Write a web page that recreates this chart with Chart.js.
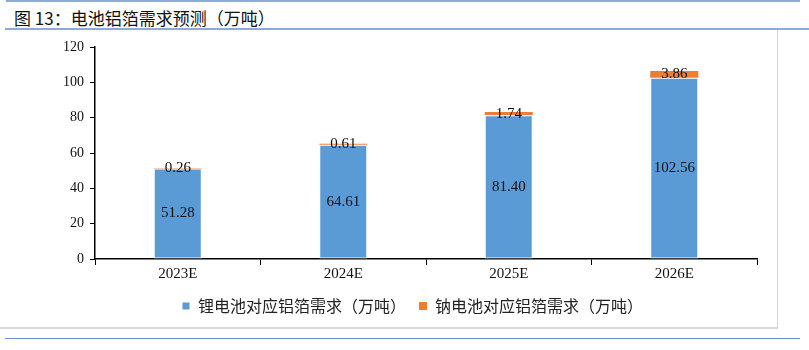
<!DOCTYPE html>
<html>
<head>
<meta charset="utf-8">
<script src="https://cdn.jsdelivr.net/npm/chart.js@4"></script>
<style>
    body { margin: 0; width: 809px; height: 350px; background: #fff; position: relative; overflow: hidden; }
    .line { position: absolute; height: 2px; background: #8eaadb; }
    #title { position: absolute; left: 14px; top: 5px; font: 17px "Noto Sans CJK SC", sans-serif; color: #111; }
    #box { position: absolute; left: 0; top: 30px; width: 777px; height: 297px; border-right: 1px solid #d4d4d4; border-bottom: 2px solid #d9d9d9; }
</style>
</head>
<body>
<div class="line" style="left:6px; width:794px; top:0;"></div>
<div id="title">图 13：电池铝箔需求预测（万吨）</div>
<div class="line" style="left:5px; width:804px; top:28px;"></div>
<div id="box"><canvas id="chart" width="777" height="297"></canvas></div>
<div class="line" style="left:5px; width:795px; top:338px; height:1px; background:#6f8fca;"></div>

<script>
const categories = ["2023E", "2024E", "2025E", "2026E"];
const lithiumValues = [51.28, 64.61, 81.40, 102.56];
const sodiumValues = [0.26, 0.61, 1.74, 3.86];
const seriesNames = ["锂电池对应铝箔需求（万吨）", "钠电池对应铝箔需求（万吨）"];

// draw the value of each bar segment in its middle
const barLabels = {
    id: "barLabels",
    afterLayout(chart) {
        // legend in the original sits a bit right of centre
        chart.legend.left += 34;
        chart.legend.right += 34;
    },
    afterDatasetsDraw(chart) {
        const ctx = chart.ctx;
        ctx.save();
        ctx.font = "15px 'Liberation Serif', serif";
        ctx.fillStyle = "#111";
        ctx.textAlign = "center";
        ctx.textBaseline = "middle";
        chart.data.datasets.forEach((ds, i) => {
            chart.getDatasetMeta(i).data.forEach((bar, j) => {
                ctx.fillText(ds.data[j].toFixed(2), bar.x, (bar.y + bar.base) / 2);
            });
        });
        ctx.restore();
    }
};

new Chart(document.getElementById("chart"), {
    type: "bar",
    data: {
        labels: categories,
        datasets: [
            { label: seriesNames[0], data: lithiumValues, backgroundColor: "#5b9bd5", borderColor: "#ffffff", borderWidth: 1, borderSkipped: false },
            { label: seriesNames[1], data: sodiumValues, backgroundColor: "#ed7d31", borderColor: "#ffffff", borderWidth: 0 }
        ]
    },
    options: {
        responsive: false,
        animation: false,
        layout: { padding: { top: 17, right: 20, bottom: 3, left: 0 } },
        datasets: { bar: { categoryPercentage: 1, barPercentage: 0.29 } },
        plugins: {
            tooltip: { enabled: false },
            legend: {
                position: "bottom",
                labels: {
                    boxWidth: 8, boxHeight: 8, padding: 13,
                    color: "#222",
                    font: { size: 16, family: "'Noto Sans CJK SC', sans-serif" }
                }
            }
        },
        scales: {
            x: {
                stacked: true,
                offset: true,
                afterFit(scale) { scale.height = 26; },
                grid: { offset: true, drawOnChartArea: false, tickLength: 6, color: "#000", tickColor: "#000" },
                border: { color: "#000", width: 1.5 },
                ticks: { color: "#111", font: { size: 15, family: "'Liberation Serif', serif" }, padding: 0 }
            },
            y: {
                stacked: true,
                min: 0, max: 120,
                afterFit(scale) { scale.width = 95; },
                grid: { drawOnChartArea: false, tickLength: 5, color: "#000", tickColor: "#000" },
                border: { color: "#000", width: 1.5 },
                ticks: { stepSize: 20, color: "#111", font: { size: 14, family: "'Liberation Serif', serif" }, padding: 6 }
            }
        }
    },
    plugins: [barLabels]
});
</script>
</body>
</html>
